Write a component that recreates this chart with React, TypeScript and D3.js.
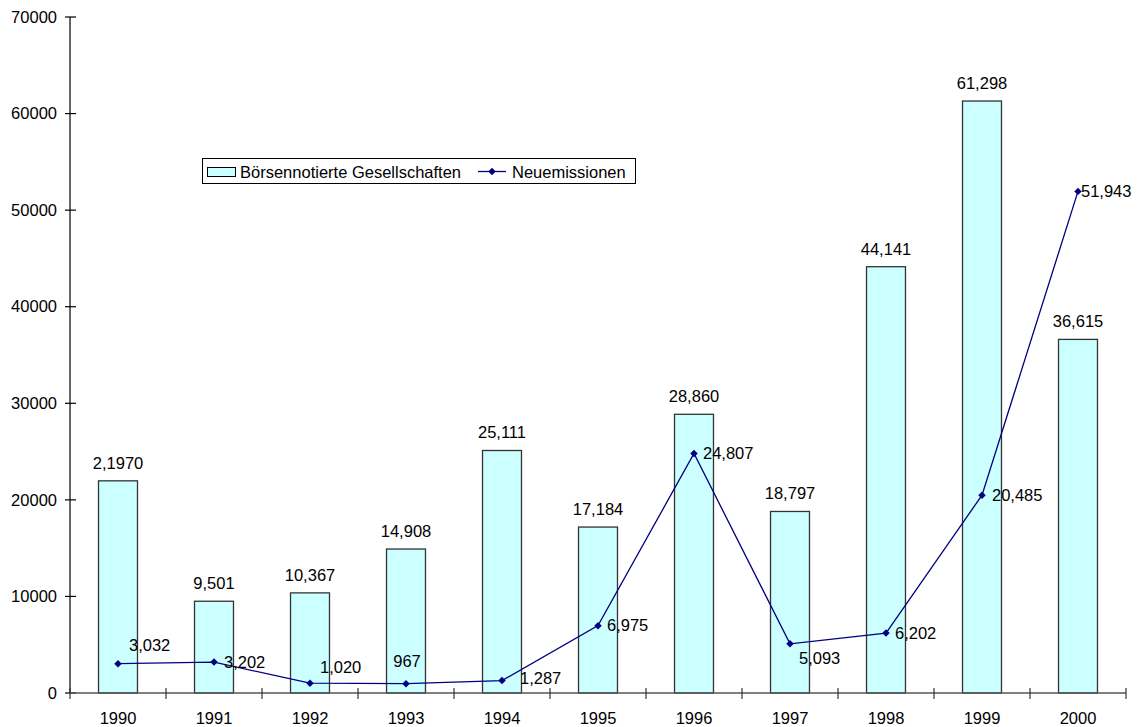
import React, { useEffect, useRef } from "react";
import * as d3 from "d3";

const years = ["1990", "1991", "1992", "1993", "1994", "1995", "1996", "1997", "1998", "1999", "2000"];
const listedCompanies = [21970, 9501, 10367, 14908, 25111, 17184, 28860, 18797, 44141, 61298, 36615];
const listedLabels = ["2,1970", "9,501", "10,367", "14,908", "25,111", "17,184", "28,860", "18,797", "44,141", "61,298", "36,615"];
const newIssues = [3032, 3202, 1020, 967, 1287, 6975, 24807, 5093, 6202, 20485, 51943];
const newIssueLabels = ["3,032", "3,202", "1,020", "967", "1,287", "6,975", "24,807", "5,093", "6,202", "20,485", "51,943"];
const yTicks = [0, 10000, 20000, 30000, 40000, 50000, 60000, 70000];

// where each line label sits relative to its point (as Excel placed them)
const labelOffsets: [number, number, string][] = [
  [11, -18, "start"], [10, 0, "start"], [10, -16, "start"], [1, -22, "middle"],
  [18, -2, "start"], [9, 0, "start"], [9, 0, "start"], [9, 14, "start"],
  [9, 0, "start"], [10, 0, "start"], [3, 0, "start"],
];

const W = 1137;
const H = 727;
const FONT = "'Liberation Sans', Arial, sans-serif";
const FS = 16.5;

export default function App() {
  const ref = useRef<SVGSVGElement>(null);

  useEffect(() => {
    const svg = d3.select(ref.current);
    svg.selectAll("*").remove();

    const left = 70, right = 1126, top = 17, bottom = 693;

    const x = d3.scaleBand().domain(years).range([left, right]).paddingInner(0.594).paddingOuter(0.297);
    const xCat = d3.scaleBand().domain(years).range([left, right]);
    const y = d3.scaleLinear().domain([0, 70000]).range([bottom, top]);

    // bars
    svg.append("g")
      .selectAll("rect")
      .data(listedCompanies)
      .enter()
      .append("rect")
      .attr("x", (d, i) => x(years[i])!)
      .attr("y", (d) => y(d))
      .attr("width", x.bandwidth())
      .attr("height", (d) => bottom - y(d))
      .attr("fill", "#ccffff")
      .attr("stroke", "#333")
      .attr("stroke-width", 1.3);

    svg.append("g")
      .selectAll("text")
      .data(listedCompanies)
      .enter()
      .append("text")
      .attr("x", (d, i) => x(years[i])! + x.bandwidth() / 2)
      .attr("y", (d) => y(d) - 12)
      .attr("text-anchor", "middle")
      .attr("font-family", FONT)
      .attr("font-size", FS)
      .text((d, i) => listedLabels[i]);

    // y axis
    const yAxis = svg.append("g");
    yAxis.append("line")
      .attr("x1", left).attr("x2", left).attr("y1", top).attr("y2", bottom)
      .attr("stroke", "#000").attr("stroke-width", 1.2);
    yTicks.forEach((t) => {
      yAxis.append("line")
        .attr("x1", left - 5).attr("x2", left + 6).attr("y1", y(t)).attr("y2", y(t))
        .attr("stroke", "#000").attr("stroke-width", 1.2);
      yAxis.append("text")
        .attr("x", left - 13).attr("y", y(t))
        .attr("dy", "0.35em")
        .attr("text-anchor", "end")
        .attr("font-family", FONT)
        .attr("font-size", FS)
        .text(t);
    });

    // x axis
    const xAxis = svg.append("g");
    xAxis.append("line")
      .attr("x1", left).attr("x2", right).attr("y1", bottom).attr("y2", bottom)
      .attr("stroke", "#555").attr("stroke-width", 1.3);
    years.concat(["end"]).forEach((yr, i) => {
      const xx = i < years.length ? xCat(yr)! : right;
      xAxis.append("line")
        .attr("x1", xx).attr("x2", xx).attr("y1", bottom - 5).attr("y2", bottom + 6)
        .attr("stroke", "#333").attr("stroke-width", 1.2);
    });
    xAxis.selectAll("text.yr")
      .data(years)
      .enter()
      .append("text")
      .attr("x", (d) => xCat(d)! + xCat.bandwidth() / 2)
      .attr("y", 718)
      .attr("dy", "0.35em")
      .attr("text-anchor", "middle")
      .attr("font-family", FONT)
      .attr("font-size", FS)
      .text((d) => d);

    // line series
    const cx = (i: number) => x(years[i])! + x.bandwidth() / 2;
    const line = d3.line<number>().x((d, i) => cx(i)).y((d) => y(d));
    svg.append("path")
      .datum(newIssues)
      .attr("d", line)
      .attr("fill", "none")
      .attr("stroke", "#000080")
      .attr("stroke-width", 1.3);

    const diamond = d3.symbol().type(d3.symbolSquare).size(28);
    svg.append("g")
      .selectAll("path")
      .data(newIssues)
      .enter()
      .append("path")
      .attr("d", diamond)
      .attr("transform", (d, i) => `translate(${cx(i)},${y(d)}) rotate(45)`)
      .attr("fill", "#000080");

    svg.append("g")
      .selectAll("text")
      .data(newIssues)
      .enter()
      .append("text")
      .attr("x", (d, i) => cx(i) + labelOffsets[i][0])
      .attr("y", (d, i) => y(d) + labelOffsets[i][1])
      .attr("dy", "0.35em")
      .attr("text-anchor", (d, i) => labelOffsets[i][2])
      .attr("font-family", FONT)
      .attr("font-size", FS)
      .text((d, i) => newIssueLabels[i]);

    // legend
    const lg = svg.append("g");
    lg.append("rect")
      .attr("x", 202.5).attr("y", 158.5).attr("width", 433).attr("height", 25)
      .attr("fill", "#fff").attr("stroke", "#000").attr("stroke-width", 1);
    lg.append("rect")
      .attr("x", 207.5).attr("y", 167.5).attr("width", 28).attr("height", 9)
      .attr("fill", "#ccffff").attr("stroke", "#000");
    lg.append("text")
      .attr("x", 240).attr("y", 172).attr("dy", "0.35em")
      .attr("font-family", FONT).attr("font-size", FS)
      .text("Börsennotierte Gesellschaften");
    lg.append("line")
      .attr("x1", 478).attr("x2", 506).attr("y1", 171.5).attr("y2", 171.5)
      .attr("stroke", "#000080").attr("stroke-width", 1.3);
    lg.append("path")
      .attr("d", diamond)
      .attr("transform", "translate(492,171.5) rotate(45)")
      .attr("fill", "#000080");
    lg.append("text")
      .attr("x", 512).attr("y", 172).attr("dy", "0.35em")
      .attr("font-family", FONT).attr("font-size", FS)
      .text("Neuemissionen");
  }, []);

  return (
    <svg
      ref={ref}
      width={W}
      height={H}
      style={{ position: "absolute", left: 0, top: 0, background: "#fff" }}
    />
  );
}
